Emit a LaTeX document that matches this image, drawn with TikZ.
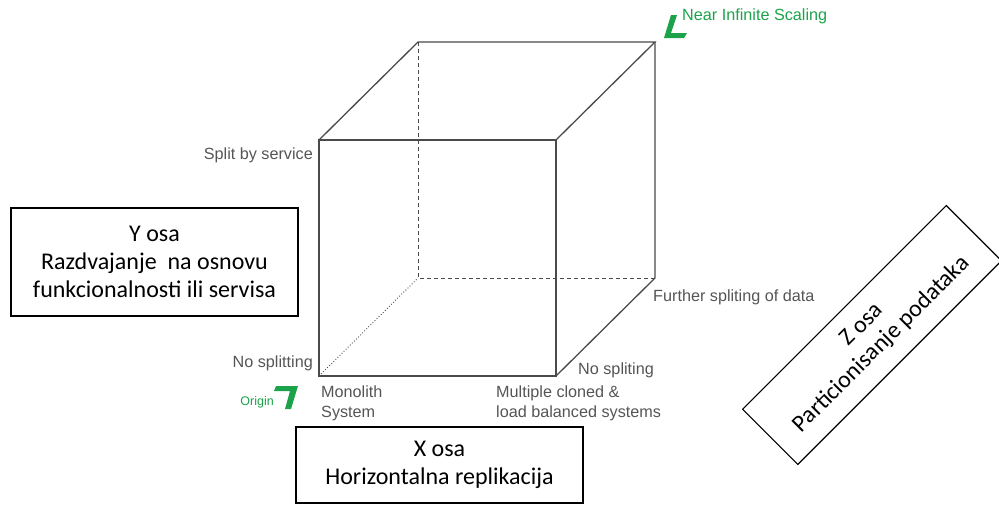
\documentclass[tikz,border=0pt]{standalone}
\usepackage{fontspec}
\setmainfont{Liberation Sans}
\newfontfamily\boxfont{Carlito}
\definecolor{edgegray}{HTML}{4A4A4A}
\definecolor{labelgray}{HTML}{555555}
\definecolor{markgreen}{HTML}{1BA24A}
\tikzset{
  edge/.style={edgegray,line width=1.3pt},
  lbl/.style={labelgray,inner sep=0pt,font=\fontsize{16.2}{20}\selectfont},
  axisbox/.style={draw=black,line width=1.2pt,align=center,inner sep=0pt,
    font=\boxfont\fontsize{24}{28}\selectfont}
}
\begin{document}
\begin{tikzpicture}[x=1pt,y=1pt]
   \useasboundingbox (0,0) rectangle (999,-504);
   \coordinate (ftl) at (319,-140);
   \coordinate (ftr) at (556,-140);
   \coordinate (fbl) at (319,-376);
   \coordinate (fbr) at (556,-376);
   \coordinate (btl) at (418,-42);
   \coordinate (btr) at (655,-42);
   \coordinate (bbl) at (418,-278);
   \coordinate (bbr) at (655,-278);
   \draw[edge] (ftl) -- (ftr) -- (fbr) -- (fbl) -- cycle;
   \draw[edge] (ftl) -- (btl) -- (btr) -- (ftr);
   \draw[edge] (btr) -- (bbr) -- (fbr);
   \draw[edge,line width=1pt,dash pattern=on 4pt off 3pt] (btl) -- (bbl) -- (bbr);
   \draw[edge,line width=0.9pt,dotted] (fbl) -- (bbl);
   \node[lbl,anchor=east] (split) at (313,-155) {Split by service};
   \node[lbl,anchor=east] (nosplit) at (313,-363) {No splitting};
   \node[lbl,anchor=north west,align=left] (mono) at (321,-386) {Monolith\\System};
   \node[lbl,anchor=north west,align=left] (multi) at (496,-386) {Multiple cloned \&\\load balanced systems};
   \node[lbl,anchor=west] (nospliting) at (578,-370) {No spliting};
   \node[lbl,anchor=west] (further) at (653,-297) {Further spliting of data};
   \node[lbl,markgreen,anchor=west] (near) at (682,-16) {Near Infinite Scaling};
   \node[lbl,markgreen,anchor=east,font=\fontsize{12.5}{14}\selectfont] (origin) at (274,-402) {Origin};
   \fill[markgreen] (671,-15) -- (677,-15) -- (671,-33) -- (687,-33) -- (684,-38) -- (664,-38) -- cycle;
   \fill[markgreen] (276,-386) -- (298,-386) -- (291,-409) -- (285,-409) -- (290,-391) -- (274,-391) -- cycle;
   \node[axisbox,minimum width=287pt,minimum height=108pt] (yaxis) at (154.5,-262)
    {Y osa\\Razdvajanje\ \ na osnovu\\funkcionalnosti ili servisa};
   \node[axisbox,minimum width=287pt,minimum height=76pt] (xaxis) at (439.5,-465)
    {X osa\\Horizontalna replikacija};
   \node[axisbox,rotate=45,minimum width=288pt,minimum height=78pt] (zaxis) at (872,-335)
    {Z osa\\Particionisanje podataka};
  \end{tikzpicture}
\end{document}
